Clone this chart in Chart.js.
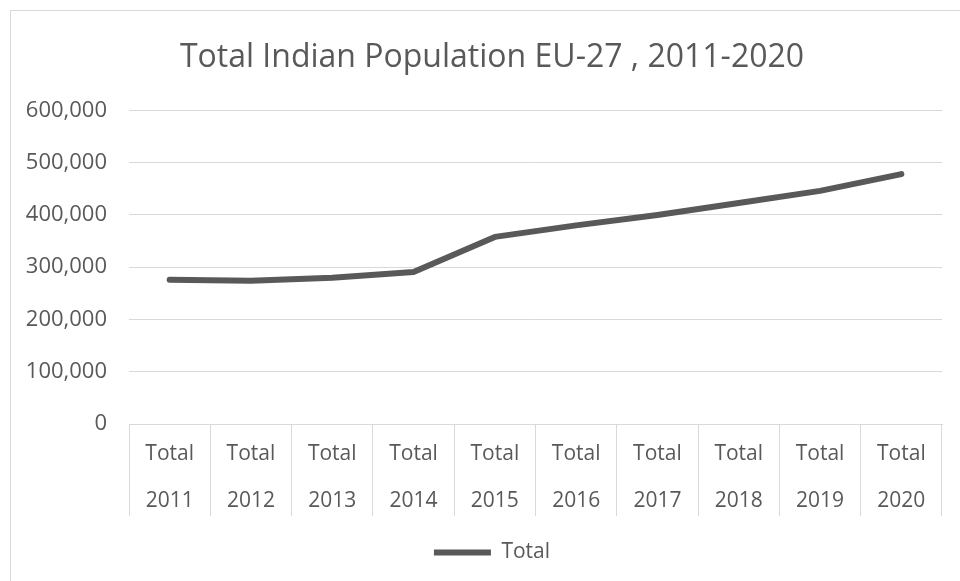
<!DOCTYPE html>
<html>
<head>
<meta charset="utf-8">
<script src="https://cdn.jsdelivr.net/npm/chart.js@4"></script>
<style>
  html, body { margin: 0; padding: 0; background: #fff; overflow: hidden; width: 960px; height: 581px; }
  #wrap { position: absolute; left: 10px; top: 10px; width: 963px; height: 600px; border: 1px solid #d9d9d9; background: #fff; }
  #c { display: block; }
</style>
</head>
<body>
<div id="wrap"><canvas id="c" width="963" height="570"></canvas></div>
<script>
const categories = ["2011","2012","2013","2014","2015","2016","2017","2018","2019","2020"];
const categoryPrefix = "Total";
const totalValues = [276000, 274000, 280000, 291000, 358000, 380000, 400000, 423000, 446000, 478000];
const yTicks = [0, 100000, 200000, 300000, 400000, 500000, 600000];
const seriesName = "Total";
const titleText = "Total Indian Population EU-27 , 2011-2020";

const textColor = '#595959';
const gridColor = '#d9d9d9';
const fontFamily = "'Open Sans', sans-serif";
const yFontSize = 22;
const yLabelGap = 22;

const labels = categories.map(c => [categoryPrefix, c]);
const fmt = v => Number(v).toLocaleString('en-US');

// width of the widest y label (used to right-align mirrored labels left of the plot)
const mctx = document.createElement('canvas').getContext('2d');
mctx.font = yFontSize + "px " + fontFamily;
const widestY = Math.max(...yTicks.map(v => mctx.measureText(fmt(v)).width));

new Chart(document.getElementById('c'), {
  type: 'line',
  data: {
    labels: labels,
    datasets: [{
      label: seriesName,
      data: totalValues,
      borderColor: '#595959',
      backgroundColor: '#595959',
      borderWidth: 6,
      borderCapStyle: 'round',
      borderJoinStyle: 'round',
      pointRadius: 0,
      pointHoverRadius: 0,
      pointStyle: 'line',
      tension: 0,
      fill: false
    }]
  },
  options: {
    responsive: false,
    animation: false,
    events: [],
    layout: { padding: { left: 31, right: 32, top: 0, bottom: 8 } },
    plugins: {
      title: {
        display: true,
        text: titleText,
        color: textColor,
        font: { family: fontFamily, size: 32, weight: 'normal', lineHeight: 1.2 },
        padding: { top: 28, bottom: 33 }
      },
      legend: {
        display: true,
        position: 'bottom',
        labels: {
          color: textColor,
          font: { family: fontFamily, size: 21 },
          usePointStyle: true,
          pointStyle: 'line',
          pointStyleWidth: 57,
          padding: 10
        }
      },
      tooltip: { enabled: false }
    },
    scales: {
      x: {
        type: 'category',
        offset: true,
        grid: {
          display: true,
          offset: true,
          drawOnChartArea: false,
          drawTicks: true,
          tickLength: 92,
          color: gridColor,
          lineWidth: 1
        },
        border: { display: true, color: gridColor, width: 1 },
        ticks: {
          color: textColor,
          font: { family: fontFamily, size: 21, lineHeight: 2.25 },
          padding: -86,
          maxRotation: 0,
          minRotation: 0,
          autoSkip: false
        },
        afterFit: function(scale) { scale.height = 108; }
      },
      y: {
        min: 0,
        max: 600000,
        afterBuildTicks: function(scale) { scale.ticks = yTicks.map(v => ({ value: v })); },
        afterFit: function(scale) { scale.width = 87; },
        grid: { color: gridColor, lineWidth: 1, drawTicks: false },
        border: { display: false },
        ticks: {
          color: textColor,
          font: { family: fontFamily, size: yFontSize },
          mirror: true,
          crossAlign: 'far',
          padding: -(yLabelGap + widestY),
          callback: fmt
        }
      }
    }
  }
});
</script>
</body>
</html>
